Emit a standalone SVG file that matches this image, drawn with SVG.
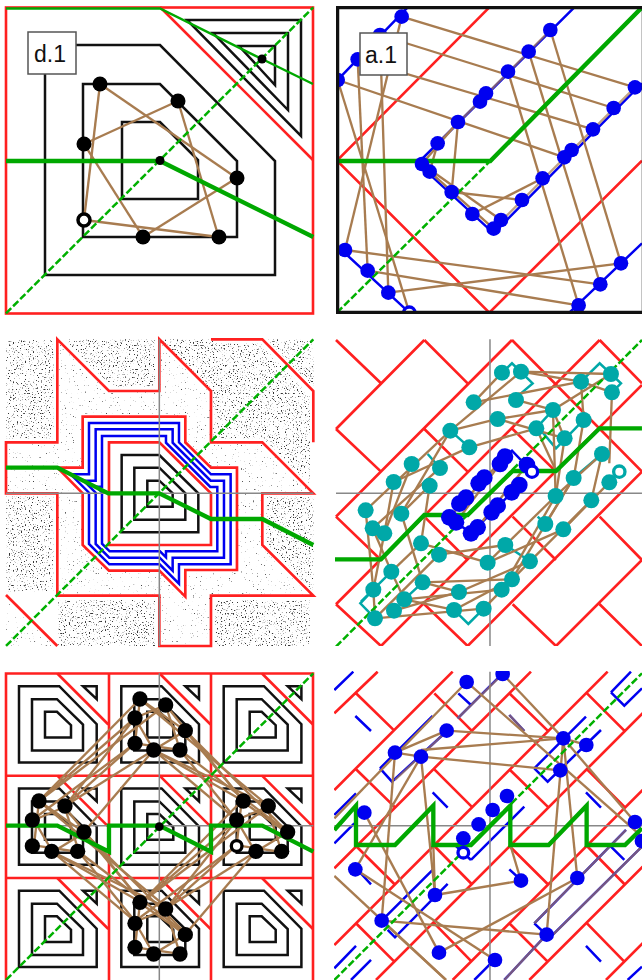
<svg xmlns="http://www.w3.org/2000/svg" width="642" height="980" viewBox="0 0 642 980">
<style>
text{font-family:"Liberation Sans",Arial,sans-serif;font-size:23px;fill:#111}
.r{fill:none;stroke:#ff2020;stroke-width:2.600}
.rz{fill:none;stroke:#ff2020;stroke-width:8}
.k{fill:none;stroke:#111;stroke-width:2.500}
.kz{fill:none;stroke:#111;stroke-width:7.500}
.bz{fill:none;stroke:#0000f0;stroke-width:7.500}
.tz{fill:none;stroke:#00a8a8;stroke-width:7.500}
.gy{stroke:#888;stroke-width:4.500;fill:none}
.gt{fill:none;stroke:#00a800;stroke-width:13;stroke-linejoin:miter}
.gd{fill:none;stroke:#00b000;stroke-width:7.500;stroke-dasharray:22 8}
.br line{stroke:#a87c50;stroke-width:7}
.ov line{stroke:#a87c50;stroke-width:7;stroke-opacity:.7}
.bl circle{fill:#0000f0}
.bk circle{fill:#000}
.te circle{fill:#00a8a8}
.lb{fill:#fff;stroke:#555;stroke-width:1.500}
</style>
<defs>
<filter id="dense" x="0" y="0" width="1" height="1" color-interpolation-filters="sRGB"><feTurbulence type="fractalNoise" baseFrequency="0.75" numOctaves="1" seed="7"/><feColorMatrix values="0 0 0 0 .2 0 0 0 0 .2 0 0 0 0 .2 9 0 0 0 -5.400"/><feGaussianBlur stdDeviation=".3"/></filter>
<filter id="sparse" x="0" y="0" width="1" height="1" color-interpolation-filters="sRGB"><feTurbulence type="fractalNoise" baseFrequency="0.75" numOctaves="1" seed="11"/><feColorMatrix values="0 0 0 0 .25 0 0 0 0 .25 0 0 0 0 .25 9 0 0 0 -6.200"/><feGaussianBlur stdDeviation=".25"/></filter>
<clipPath id="cDense"><path transform="scale(.3333) translate(0,990)" d="M18 30H160V325H18ZM205 28H465V170H335L205 40ZM490 40L640 185V325H790L930 465V195L780 40H640V28H490ZM800 28L940 170V28ZM800 500H940V785L800 640ZM18 500H160V785L18 785ZM175 810H465V948H175ZM645 810H930V948H645Z"/></clipPath>
<clipPath id="cSparse"><path clip-rule="evenodd" transform="scale(.3333) translate(0,990)" d="M172 28L327 183H478V28L633 183V337H787L940 490H787V645L940 797H633V948H478V797H172V490H18V337H172ZM248 260H556V337L633 413H711V720H556V800L478 722H327L248 645V490L172 413H248ZM18 795L172 948H18Z"/></clipPath>
<clipPath id="c2"><rect x="336" y="6" width="306" height="308"/></clipPath>
<clipPath id="c4"><rect x="335" y="338" width="307" height="308"/></clipPath>
<clipPath id="c6"><rect x="334" y="671" width="308" height="309"/></clipPath>
<g id="tile">
<path class="r" d="M51.300 0L102.300 51"/>
<path class="k" d="M13 12.700H53.300L90.700 50.700V89H13ZM26 25.700H51L77 51V77H26ZM39 38.300H51L65 51.700V64H39ZM77 12.700H90.700V25.700Z"/>
</g>
<g id="bandTL" class="br">
<line x1="420" y1="117" x2="117" y2="423"/><line x1="405" y1="174" x2="117" y2="423"/><line x1="405" y1="174" x2="195" y2="438"/><line x1="405" y1="250" x2="195" y2="438"/><line x1="405" y1="250" x2="97" y2="480"/><line x1="461" y1="270" x2="252" y2="516"/><line x1="461" y1="270" x2="195" y2="438"/><line x1="497" y1="135" x2="117" y2="423"/>
</g>
<g id="bandTR" class="br">
<line x1="556" y1="212" x2="730" y2="423"/><line x1="556" y1="212" x2="863" y2="516"/><line x1="540" y1="270" x2="863" y2="516"/><line x1="461" y1="270" x2="805" y2="438"/><line x1="461" y1="270" x2="730" y2="423"/><line x1="540" y1="270" x2="710" y2="480"/><line x1="497" y1="135" x2="730" y2="423"/><line x1="461" y1="270" x2="710" y2="480"/><line x1="420" y1="117" x2="805" y2="438"/>
</g>
<g id="inner" class="br">
<line x1="420" y1="117" x2="556" y2="212"/><line x1="420" y1="117" x2="405" y2="250"/><line x1="497" y1="135" x2="405" y2="174"/><line x1="497" y1="135" x2="540" y2="270"/><line x1="405" y1="174" x2="461" y2="270"/><line x1="405" y1="250" x2="540" y2="270"/><line x1="461" y1="270" x2="556" y2="212"/>
</g>
</defs>

<g id="panel-d1">
<rect class="r" x="6" y="7.500" width="307" height="306"/>
<g id="p1-shapes">
<path class="k" d="M76 45H160L275 161V275H45V74"/>
<path class="k" d="M83 84H160L237 161V237H83Z"/>
<path class="k" d="M122 122H160L198 160V199H122Z"/>
<path class="k" d="M187 20H301V136ZM213 33H288V110ZM239 46H275V85Z"/>
<path class="r" d="M160 7L313 160"/>
</g>
<g id="p1-connectors">
<path d="M6 8.500H160L262 59L313 84" fill="none" stroke="#00a800" stroke-width="2.500"/>
<g class="br" transform="scale(.3333)">
<line x1="300" y1="252" x2="710" y2="534"/><line x1="300" y1="252" x2="252" y2="660"/><line x1="534" y1="303" x2="252" y2="432"/><line x1="534" y1="303" x2="656" y2="711"/><line x1="252" y1="432" x2="429" y2="711"/><line x1="252" y1="660" x2="656" y2="711"/><line x1="429" y1="711" x2="710" y2="534"/>
</g>
<path transform="scale(.3333)" class="gt" d="M18 483H480L940 711"/>
<path transform="scale(.3333)" class="gd" d="M18 940L940 22"/>
</g>
<g class="bk">
<g id="p1-n1"><circle cx="100" cy="84" r="7.500"/></g><g id="p1-n2"><circle cx="178" cy="101" r="7.500"/></g><g id="p1-n3"><circle cx="84" cy="144" r="7.500"/></g><g id="p1-n4"><circle cx="237" cy="178" r="7.500"/></g><g id="p1-n5"><circle cx="219" cy="237" r="7.500"/></g><g id="p1-n6"><circle cx="143" cy="237" r="7.500"/></g>
<g id="p1-n7"><circle cx="84" cy="220" r="6" fill="#fff" stroke="#000" stroke-width="3.500" style="fill:#fff"/></g>
<g id="p1-n8"><circle cx="160" cy="160.500" r="4.500"/></g><g id="p1-n9"><circle cx="262" cy="59" r="4.500"/></g>
</g>
<g id="label-d1"><rect class="lb" x="28" y="32" width="48" height="42"/><text x="34" y="62">d.1</text></g>
</g>

<g id="panel-a1" clip-path="url(#c2)">
<g transform="translate(321,0) scale(.3333)">
<path class="rz" d="M505 22L48 482L505 938L963 482"/>
<g id="p2-blue">
<path class="bz" d="M50 240L260 22M40 730L265 938M745 938L963 730M760 22L290 490L518 700L963 250"/>
</g>
<g id="p2-connectors" class="br">
<line x1="242" y1="50" x2="942" y2="262"/><line x1="177" y1="105" x2="878" y2="324"/><line x1="110" y1="178" x2="816" y2="388"/><line x1="50" y1="240" x2="730" y2="472"/>
<line x1="688" y1="90" x2="900" y2="790"/><line x1="623" y1="155" x2="838" y2="853"/><line x1="561" y1="215" x2="773" y2="916"/>
<line x1="72" y1="750" x2="838" y2="853"/><line x1="140" y1="812" x2="773" y2="916"/><line x1="202" y1="878" x2="900" y2="790"/>
<line x1="242" y1="50" x2="72" y2="750"/><line x1="177" y1="105" x2="202" y2="878"/><line x1="110" y1="178" x2="140" y2="812"/><line x1="50" y1="240" x2="265" y2="938"/>
<line x1="411" y1="366" x2="392" y2="576"/><line x1="411" y1="366" x2="303" y2="492"/><line x1="350" y1="430" x2="326" y2="515"/><line x1="392" y1="576" x2="603" y2="600"/><line x1="326" y1="515" x2="518" y2="686"/><line x1="303" y1="492" x2="540" y2="660"/><line x1="454" y1="642" x2="665" y2="535"/>
</g>
<g class="ov"><line x1="688" y1="90" x2="350" y2="430"/><line x1="518" y1="686" x2="942" y2="262"/></g>
<path class="gt" d="M48 483H508L963 22"/>
<path class="gd" d="M48 938L508 483"/>
<g class="bl">
<g id="p2-n1"><circle cx="242" cy="50" r="22"/></g><g id="p2-n2"><circle cx="177" cy="105" r="22"/></g><g id="p2-n3"><circle cx="110" cy="178" r="22"/></g><g id="p2-n4"><circle cx="50" cy="240" r="22"/></g><g id="p2-n5"><circle cx="72" cy="750" r="22"/></g><g id="p2-n6"><circle cx="140" cy="812" r="22"/></g><g id="p2-n7"><circle cx="202" cy="878" r="22"/></g>
<g id="p2-n8"><circle cx="265" cy="938" r="17" fill="#fff" stroke="#0000f0" stroke-width="10" style="fill:#fff"/></g>
<g id="p2-n9"><circle cx="773" cy="916" r="22"/></g><g id="p2-n10"><circle cx="838" cy="853" r="22"/></g><g id="p2-n11"><circle cx="900" cy="790" r="22"/></g><g id="p2-n12"><circle cx="688" cy="90" r="22"/></g><g id="p2-n13"><circle cx="623" cy="155" r="22"/></g><g id="p2-n14"><circle cx="561" cy="215" r="22"/></g><g id="p2-n15"><circle cx="495" cy="280" r="22"/></g><g id="p2-n16"><circle cx="477" cy="305" r="22"/></g><g id="p2-n17"><circle cx="411" cy="366" r="22"/></g><g id="p2-n18"><circle cx="350" cy="430" r="22"/></g><g id="p2-n19"><circle cx="303" cy="492" r="22"/></g><g id="p2-n20"><circle cx="326" cy="515" r="22"/></g><g id="p2-n21"><circle cx="392" cy="576" r="22"/></g><g id="p2-n22"><circle cx="454" cy="642" r="22"/></g><g id="p2-n23"><circle cx="518" cy="686" r="22"/></g><g id="p2-n24"><circle cx="540" cy="660" r="22"/></g><g id="p2-n25"><circle cx="603" cy="600" r="22"/></g><g id="p2-n26"><circle cx="665" cy="535" r="22"/></g><g id="p2-n27"><circle cx="730" cy="472" r="22"/></g><g id="p2-n28"><circle cx="752" cy="450" r="22"/></g><g id="p2-n29"><circle cx="816" cy="388" r="22"/></g><g id="p2-n30"><circle cx="878" cy="324" r="22"/></g><g id="p2-n31"><circle cx="942" cy="262" r="22"/></g>
</g>
</g>
<rect x="337.500" y="7.500" width="306" height="305" fill="none" stroke="#111" stroke-width="3.500"/>
<g id="label-a1"><rect class="lb" x="360" y="33" width="47" height="42"/><text x="365" y="63">a.1</text></g>
</g>

<g id="panel-3">
<rect x="6" y="338" width="308" height="308" filter="url(#dense)" clip-path="url(#cDense)"/>
<rect x="6" y="338" width="308" height="308" filter="url(#sparse)" clip-path="url(#cSparse)"/>
<g transform="translate(0,330) scale(.3333)">
<path class="rz" d="M172 28L327 183H478V28L633 183V337H787L940 490H787V645L940 797H633V948H478V797H172V490H18V337H172Z"/>
<path class="rz" d="M633 28H787L940 183V337M18 795L172 948"/>
<path class="rz" d="M248 260H556V337L633 413H711V720H556V800L478 722H327L248 645V490L172 413H248Z"/>
<path class="rz" d="M327 337H478L633 490V645H327Z"/>
<path class="bz" d="M267 279H537V337L633 433H692V703H537V761L479 703H328L267 642V488L212 433H267Z"/>
<path class="bz" d="M287 298H518V338L632 452H672V683H518V722L479 683H328L287 642V488L251 452H287Z"/>
<path class="bz" d="M306 318H498V338L631 471H652V664H498V682L480 664H329L306 641V487L289 470H306Z"/>
<path class="kz" d="M365 375H478L595 490V607H365Z"/>
<path class="kz" d="M403 413H478L556 490V569H403Z"/>
<path class="kz" d="M442 452H478L518 490V530H442Z"/>
<path class="gy" d="M18 490H940M478 28V948"/>
<path class="gt" d="M18 413H172L325 490H478L633 567H787L940 645"/>
<path class="gd" d="M18 948L940 28"/>
</g>
</g>

<g id="panel-4" clip-path="url(#c4)">
<g transform="translate(321,330) scale(.3333)">
<path class="rz" d="M310 30L45 297M573 30L45 560M836 30L45 823M963 165L180 948M963 425L440 948M963 690L705 948M573 30L963 425M45 30L180 160M310 30L440 160M45 297L180 425M310 297L440 425M575 297L705 425M836 30L963 160M45 560L180 690M310 560L440 690M575 560L705 690M836 560L963 690M45 823L180 948M310 823L440 948M575 823L705 948M836 823L963 948"/>
<path class="gy" d="M507 28V948M45 490H963"/>
<path class="tz" d="M543 128L573 100L635 160L600 190M780 155L836 100L900 160L873 187M696 240L650 290L705 355L788 270M388 302L445 352M320 372L357 414M650 560L673 582M157 779L118 820L162 865M399 840L442 882L488 836M553 645L627 694M843 372L758 444M865 457L895 425M211 725L120 815M305 757L250 808"/>
<path class="bz" d="M552 380L573 362L633 425M385 562L450 610L512 547M450 610L595 465"/>
<g id="p4-connectors" class="br">
<line x1="600" y1="125" x2="388" y2="302"/><line x1="543" y1="128" x2="458" y2="217"/><line x1="600" y1="125" x2="870" y2="132"/><line x1="600" y1="125" x2="780" y2="155"/><line x1="458" y1="217" x2="780" y2="155"/><line x1="585" y1="210" x2="696" y2="240"/><line x1="696" y1="240" x2="731" y2="325"/><line x1="530" y1="267" x2="696" y2="240"/><line x1="530" y1="267" x2="731" y2="325"/><line x1="388" y1="302" x2="530" y2="267"/><line x1="445" y1="352" x2="646" y2="295"/><line x1="780" y1="155" x2="873" y2="187"/><line x1="780" y1="155" x2="788" y2="270"/><line x1="870" y1="132" x2="696" y2="240"/><line x1="873" y1="187" x2="865" y2="400"/><line x1="696" y1="240" x2="704" y2="498"/><line x1="731" y1="325" x2="704" y2="498"/><line x1="788" y1="270" x2="758" y2="444"/><line x1="843" y1="372" x2="704" y2="498"/><line x1="843" y1="372" x2="811" y2="511"/><line x1="646" y1="295" x2="704" y2="420"/><line x1="758" y1="444" x2="673" y2="582"/><line x1="811" y1="511" x2="727" y2="598"/><line x1="865" y1="457" x2="727" y2="598"/><line x1="704" y1="498" x2="500" y2="698"/>
<line x1="388" y1="302" x2="134" y2="541"/><line x1="445" y1="352" x2="218" y2="456"/><line x1="272" y1="402" x2="190" y2="610"/><line x1="357" y1="414" x2="155" y2="595"/><line x1="218" y1="456" x2="190" y2="610"/><line x1="326" y1="467" x2="241" y2="551"/><line x1="388" y1="302" x2="241" y2="551"/><line x1="134" y1="541" x2="157" y2="779"/><line x1="155" y1="595" x2="211" y2="725"/><line x1="190" y1="610" x2="157" y2="779"/><line x1="241" y1="551" x2="305" y2="757"/><line x1="326" y1="467" x2="300" y2="640"/><line x1="300" y1="640" x2="211" y2="725"/><line x1="211" y1="725" x2="250" y2="808"/><line x1="157" y1="779" x2="162" y2="865"/><line x1="305" y1="757" x2="414" y2="786"/><line x1="300" y1="640" x2="500" y2="698"/><line x1="354" y1="674" x2="553" y2="645"/><line x1="354" y1="674" x2="162" y2="865"/><line x1="250" y1="808" x2="399" y2="840"/><line x1="219" y1="842" x2="414" y2="786"/><line x1="162" y1="865" x2="488" y2="836"/><line x1="305" y1="757" x2="573" y2="748"/><line x1="250" y1="808" x2="542" y2="779"/><line x1="414" y1="786" x2="627" y2="694"/><line x1="399" y1="840" x2="573" y2="748"/><line x1="488" y1="836" x2="627" y2="694"/><line x1="500" y1="698" x2="727" y2="598"/><line x1="542" y1="779" x2="704" y2="498"/><line x1="627" y1="694" x2="811" y2="511"/><line x1="573" y1="748" x2="758" y2="444"/>
<line x1="552" y1="380" x2="385" y2="562"/><line x1="618" y1="405" x2="470" y2="592"/><line x1="537" y1="402" x2="405" y2="577"/>
</g>
<path class="gt" d="M40 688H180L310 555H440L575 423H705L836 295H963"/>
<path class="gd" d="M45 950L963 30"/>
<g class="te">
<g id="p4-t1"><circle cx="543" cy="128" r="24"/></g><g id="p4-t2"><circle cx="600" cy="125" r="24"/></g><g id="p4-t3"><circle cx="780" cy="155" r="24"/></g><g id="p4-t4"><circle cx="870" cy="132" r="24"/></g><g id="p4-t5"><circle cx="873" cy="187" r="24"/></g><g id="p4-t6"><circle cx="458" cy="217" r="24"/></g><g id="p4-t7"><circle cx="585" cy="210" r="24"/></g><g id="p4-t8"><circle cx="696" cy="240" r="24"/></g><g id="p4-t9"><circle cx="788" cy="270" r="24"/></g><g id="p4-t10"><circle cx="530" cy="267" r="24"/></g><g id="p4-t11"><circle cx="646" cy="295" r="24"/></g><g id="p4-t12"><circle cx="731" cy="325" r="24"/></g><g id="p4-t13"><circle cx="388" cy="302" r="24"/></g><g id="p4-t14"><circle cx="445" cy="352" r="24"/></g><g id="p4-t15"><circle cx="843" cy="372" r="24"/></g><g id="p4-t16"><circle cx="272" cy="402" r="24"/></g><g id="p4-t17"><circle cx="357" cy="414" r="24"/></g><g id="p4-t18"><circle cx="758" cy="444" r="24"/></g><g id="p4-t19"><circle cx="865" cy="457" r="24"/></g><g id="p4-t20"><circle cx="218" cy="456" r="24"/></g><g id="p4-t21"><circle cx="326" cy="467" r="24"/></g><g id="p4-t22"><circle cx="704" cy="498" r="24"/></g><g id="p4-t23"><circle cx="811" cy="511" r="24"/></g><g id="p4-t24"><circle cx="134" cy="541" r="24"/></g><g id="p4-t25"><circle cx="241" cy="551" r="24"/></g><g id="p4-t26"><circle cx="155" cy="595" r="24"/></g><g id="p4-t27"><circle cx="190" cy="610" r="24"/></g><g id="p4-t28"><circle cx="673" cy="582" r="24"/></g><g id="p4-t29"><circle cx="727" cy="598" r="24"/></g><g id="p4-t30"><circle cx="300" cy="640" r="24"/></g><g id="p4-t31"><circle cx="354" cy="674" r="24"/></g><g id="p4-t32"><circle cx="553" cy="645" r="24"/></g><g id="p4-t33"><circle cx="211" cy="725" r="24"/></g><g id="p4-t34"><circle cx="500" cy="698" r="24"/></g><g id="p4-t35"><circle cx="627" cy="694" r="24"/></g><g id="p4-t36"><circle cx="305" cy="757" r="24"/></g><g id="p4-t37"><circle cx="573" cy="748" r="24"/></g><g id="p4-t38"><circle cx="157" cy="779" r="24"/></g><g id="p4-t39"><circle cx="414" cy="786" r="24"/></g><g id="p4-t40"><circle cx="542" cy="779" r="24"/></g><g id="p4-t41"><circle cx="250" cy="808" r="24"/></g><g id="p4-t42"><circle cx="219" cy="842" r="24"/></g><g id="p4-t43"><circle cx="162" cy="865" r="24"/></g><g id="p4-t44"><circle cx="399" cy="840" r="24"/></g><g id="p4-t45"><circle cx="488" cy="836" r="24"/></g>
<g id="p4-t46"><circle cx="895" cy="425" r="17" fill="#fff" stroke="#00a8a8" stroke-width="10" style="fill:#fff"/></g>
</g>
<g class="bl">
<g id="p4-b1"><circle cx="552" cy="380" r="25"/></g><g id="p4-b2"><circle cx="537" cy="402" r="25"/></g><g id="p4-b3"><circle cx="490" cy="443" r="25"/></g><g id="p4-b4"><circle cx="473" cy="460" r="25"/></g><g id="p4-b5"><circle cx="435" cy="503" r="25"/></g><g id="p4-b6"><circle cx="415" cy="521" r="25"/></g><g id="p4-b7"><circle cx="385" cy="562" r="25"/></g><g id="p4-b8"><circle cx="405" cy="577" r="25"/></g><g id="p4-b9"><circle cx="450" cy="610" r="25"/></g><g id="p4-b10"><circle cx="470" cy="592" r="25"/></g><g id="p4-b11"><circle cx="512" cy="547" r="25"/></g><g id="p4-b12"><circle cx="530" cy="527" r="25"/></g><g id="p4-b13"><circle cx="572" cy="487" r="25"/></g><g id="p4-b14"><circle cx="595" cy="465" r="25"/></g><g id="p4-b15"><circle cx="618" cy="405" r="25"/></g>
<g id="p4-b16"><circle cx="633" cy="425" r="17" fill="#fff" stroke="#0000f0" stroke-width="10" style="fill:#fff"/></g>
</g>
</g>
</g>

<g id="panel-5">
<use href="#tile" x="6" y="673.500"/><use href="#tile" x="108.300" y="673.500"/><use href="#tile" x="210.700" y="673.500"/>
<use href="#tile" x="6" y="775.700"/><use href="#tile" x="108.300" y="775.700"/><use href="#tile" x="210.700" y="775.700"/>
<use href="#tile" x="6" y="878"/><use href="#tile" x="108.300" y="878"/><use href="#tile" x="210.700" y="878"/>
<path class="r" d="M6 980V673.500H313V980M109 673.500V980M211 673.500V980M6 775.700H313M6 878H313"/>
<g transform="translate(0,660) scale(.3333)">
<path class="gy" d="M18 497H940M478 40V960"/>
<g id="p5-connectors">
<use href="#bandTL"/><use href="#bandTR"/>
<use href="#bandTL" x="305" y="306"/><use href="#bandTR" x="-303" y="306"/>
<use href="#inner"/><use href="#inner" x="-303" y="306"/><use href="#inner" x="305" y="306"/><use href="#inner" y="612"/>
</g>
<path class="gt" d="M18 497H172L327 575V497H478L633 575V497H787L940 575"/>
<path class="gd" d="M18 960L940 40"/>
<g class="bk">
<g id="p5-n1"><circle cx="420" cy="117" r="23"/></g><g id="p5-n2"><circle cx="497" cy="135" r="23"/></g><g id="p5-n3"><circle cx="405" cy="174" r="23"/></g><g id="p5-n4"><circle cx="556" cy="212" r="23"/></g><g id="p5-n5"><circle cx="405" cy="250" r="23"/></g><g id="p5-n6"><circle cx="461" cy="270" r="23"/></g><g id="p5-n7"><circle cx="540" cy="270" r="23"/></g>
<g id="p5-n8"><circle cx="117" cy="423" r="23"/></g><g id="p5-n9"><circle cx="195" cy="438" r="23"/></g><g id="p5-n10"><circle cx="97" cy="480" r="23"/></g><g id="p5-n11"><circle cx="252" cy="516" r="23"/></g><g id="p5-n12"><circle cx="97" cy="558" r="23"/></g><g id="p5-n13"><circle cx="155" cy="574" r="23"/></g><g id="p5-n14"><circle cx="233" cy="574" r="23"/></g>
<g id="p5-n15"><circle cx="730" cy="423" r="23"/></g><g id="p5-n16"><circle cx="805" cy="438" r="23"/></g><g id="p5-n17"><circle cx="710" cy="480" r="23"/></g><g id="p5-n18"><circle cx="863" cy="516" r="23"/></g>
<g id="p5-n19"><circle cx="710" cy="558" r="16" fill="#fff" stroke="#000" stroke-width="10" style="fill:#fff"/></g>
<g id="p5-n20"><circle cx="768" cy="574" r="23"/></g><g id="p5-n21"><circle cx="845" cy="574" r="23"/></g>
<g id="p5-n22"><circle cx="420" cy="727" r="23"/></g><g id="p5-n23"><circle cx="497" cy="747" r="23"/></g><g id="p5-n24"><circle cx="405" cy="790" r="23"/></g><g id="p5-n25"><circle cx="556" cy="824" r="23"/></g><g id="p5-n26"><circle cx="405" cy="862" r="23"/></g><g id="p5-n27"><circle cx="461" cy="882" r="23"/></g><g id="p5-n28"><circle cx="540" cy="882" r="23"/></g>
<g id="p5-n29"><circle cx="478" cy="500" r="13"/></g>
</g>
</g>
</g>

<g id="panel-6" clip-path="url(#c6)">
<g transform="translate(321,660) scale(.3333)">
<path class="rz" d="M170 35L40 160M395 35L40 390M630 35L40 625M860 35L40 855M1000 125L165 960M1000 355L395 960M1000 585L625 960M1000 815L855 960M105 100L220 212M340 100L452 212M565 100L680 212M798 100L910 212M105 328L220 440M340 328L452 440M565 328L680 440M798 328L910 440M105 558L220 672M340 558L452 672M565 558L680 672M798 558L910 672M105 790L220 905M340 790L452 905M565 790L680 905M798 790L910 905"/>
<path class="bz" d="M40 90L97 35M103 168L150 213M177 325L335 168M177 325L213 365L365 225M410 175L545 40M412 100L450 135M565 165L610 213M870 97L930 35M870 97L910 137L963 85M640 325L795 170M640 325L680 365L840 210M335 397L380 443M795 397L840 443M40 465L105 400M40 550L100 490M450 600L610 440M405 558L450 600M565 628L600 660M110 630L150 673M182 782L335 630M200 810L222 832L380 672M640 790L677 825M695 825L963 560M640 790L915 510M870 560L910 600M795 858L840 905M40 925L105 858M90 960L150 900M460 960L520 900M550 960L690 810M920 960L963 920"/>
<path class="gy" d="M507 35V960M40 497H963"/>
<g id="p6-connectors" class="br">
<line x1="437" y1="66" x2="40" y2="475"/><line x1="437" y1="66" x2="963" y2="530"/><line x1="545" y1="42" x2="727" y2="235"/><line x1="377" y1="212" x2="727" y2="235"/><line x1="222" y1="278" x2="300" y2="290"/><line x1="300" y1="270" x2="727" y2="235"/><line x1="300" y1="290" x2="718" y2="331"/><line x1="222" y1="278" x2="182" y2="782"/><line x1="300" y1="290" x2="342" y2="705"/><line x1="300" y1="290" x2="103" y2="628"/><line x1="727" y1="235" x2="677" y2="824"/><line x1="727" y1="235" x2="769" y2="654"/><line x1="130" y1="458" x2="354" y2="878"/><line x1="103" y1="628" x2="522" y2="900"/><line x1="182" y1="782" x2="677" y2="824"/><line x1="342" y1="705" x2="600" y2="662"/><line x1="354" y1="878" x2="769" y2="654"/><line x1="40" y1="648" x2="375" y2="960"/><line x1="182" y1="782" x2="375" y2="960"/><line x1="727" y1="235" x2="942" y2="486"/><line x1="727" y1="235" x2="796" y2="255"/><line x1="222" y1="278" x2="377" y2="212"/><line x1="568" y1="555" x2="600" y2="662"/><line x1="337" y1="555" x2="342" y2="705"/>
</g>
<g class="ov"><line x1="222" y1="360" x2="365" y2="225"/><line x1="410" y1="175" x2="545" y2="42"/><line x1="695" y1="825" x2="963" y2="560"/><line x1="640" y1="790" x2="915" y2="510"/><line x1="550" y1="960" x2="690" y2="810"/><line x1="565" y1="165" x2="610" y2="213"/></g>
<path class="gt" d="M40 510L105 437V555H222L337 437V555H450L568 437V555H683L797 437V555H912L963 505"/>
<path class="gd" d="M40 960L963 40"/>
<g class="bl">
<g id="p6-n1"><circle cx="437" cy="66" r="22"/></g><g id="p6-n2"><circle cx="545" cy="42" r="22"/></g><g id="p6-n3"><circle cx="377" cy="212" r="22"/></g><g id="p6-n4"><circle cx="222" cy="278" r="22"/></g><g id="p6-n5"><circle cx="300" cy="290" r="22"/></g><g id="p6-n6"><circle cx="727" cy="235" r="22"/></g><g id="p6-n7"><circle cx="796" cy="255" r="22"/></g><g id="p6-n8"><circle cx="718" cy="331" r="22"/></g><g id="p6-n9"><circle cx="130" cy="458" r="22"/></g><g id="p6-n10"><circle cx="558" cy="408" r="22"/></g><g id="p6-n11"><circle cx="515" cy="450" r="22"/></g><g id="p6-n12"><circle cx="473" cy="493" r="22"/></g><g id="p6-n13"><circle cx="427" cy="535" r="22"/></g>
<g id="p6-n14"><circle cx="427" cy="578" r="16" fill="#fff" stroke="#0000f0" stroke-width="10" style="fill:#fff"/></g>
<g id="p6-n15"><circle cx="942" cy="486" r="22"/></g><g id="p6-n16"><circle cx="963" cy="543" r="22"/></g><g id="p6-n17"><circle cx="103" cy="628" r="22"/></g><g id="p6-n18"><circle cx="600" cy="662" r="22"/></g><g id="p6-n19"><circle cx="342" cy="705" r="22"/></g><g id="p6-n20"><circle cx="769" cy="654" r="22"/></g><g id="p6-n21"><circle cx="182" cy="782" r="22"/></g><g id="p6-n22"><circle cx="677" cy="824" r="22"/></g><g id="p6-n23"><circle cx="354" cy="878" r="22"/></g><g id="p6-n24"><circle cx="522" cy="900" r="22"/></g>
</g>
</g>
</g>
</svg>
